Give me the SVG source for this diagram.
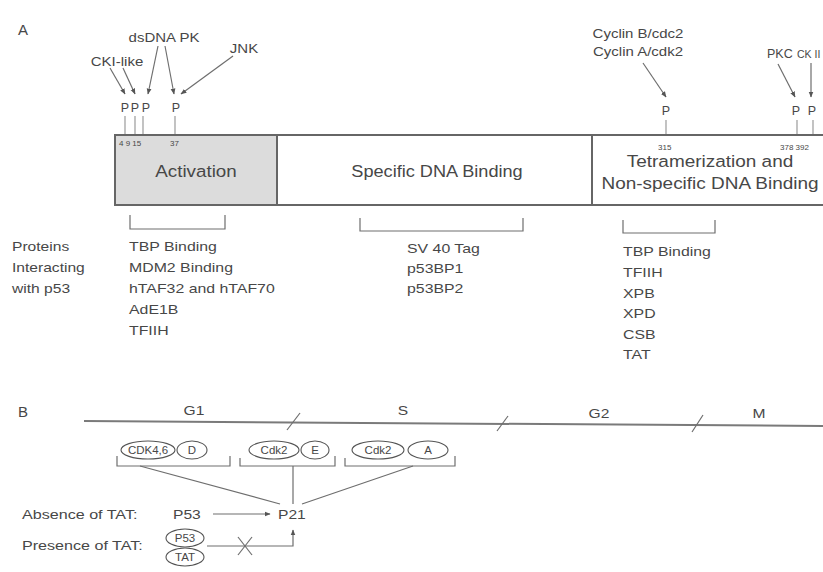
<svg xmlns="http://www.w3.org/2000/svg" width="823" height="572" viewBox="0 0 823 572">
<style>
.t{font-family:"Liberation Sans",Arial,Helvetica,sans-serif;fill:#474747}
.f17{font-size:16.5px}
.f13{font-size:13px}
.f12{font-size:12.5px}
.f10{font-size:10px}
.f8{font-size:8px}
.m{text-anchor:middle}
.ln{stroke:#6e6e6e;stroke-width:1.2;fill:none}
.tk{stroke:#9a9a9a;stroke-width:1.2;fill:none}
.box{stroke:#666;stroke-width:2;fill:#fff}
.act{fill:#dcdcdc}
.ov{stroke:#555;stroke-width:1.1;fill:#fff}
</style>
<defs>
<marker id="ah" viewBox="0 0 10 10" refX="9" refY="5" markerWidth="5" markerHeight="5" orient="auto"><path d="M0,1 L10,5 L0,9z" fill="#555"/></marker>
</defs>

<!-- Panel A -->
<g id="label-A"><text class="t" style="font-size:15px" x="18" y="35">A</text></g>

<g id="domain-activation">
<rect class="box act" x="115" y="135" width="162" height="70"/>
<text class="t f17 m" transform="translate(196 177) scale(1.14 1)">Activation</text>
<text class="t f8" x="119" y="146">4 9 15</text>
<text class="t f8" x="170" y="146">37</text>
</g>
<g id="domain-dna">
<rect class="box" x="277" y="135" width="315" height="70"/>
<text class="t f17 m" transform="translate(437 177) scale(1.1 1)">Specific DNA Binding</text>
</g>
<g id="domain-tetra">
<rect class="box" x="592" y="135" width="250" height="70"/>
<text class="t f17 m" transform="translate(710 167) scale(1.15 1)">Tetramerization and</text>
<text class="t f17 m" transform="translate(710 189) scale(1.15 1)">Non-specific DNA Binding</text>
<text class="t f8" x="658" y="150">315</text>
<text class="t f8" x="780" y="150">378 392</text>
</g>

<g id="kinase-cki"><text class="t f12 m" transform="translate(117 66) scale(1.2 1)">CKI-like</text></g>
<g id="kinase-dnapk"><text class="t f12 m" transform="translate(164 42) scale(1.2 1)">dsDNA PK</text></g>
<g id="kinase-jnk"><text class="t f12 m" transform="translate(244 53) scale(1.2 1)">JNK</text></g>
<g id="kinase-cyclin"><text class="t f12 m" transform="translate(638 38) scale(1.2 1)">Cyclin B/cdc2</text>
<text class="t f12 m" transform="translate(638 56) scale(1.2 1)">Cyclin A/cdk2</text></g>
<g id="kinase-pkc"><text class="t f12" x="767" y="58">PKC</text></g>
<g id="kinase-ck2"><text class="t" style="font-size:10.5px" x="797" y="58">CK II</text></g>

<g id="phospho-sites">
<text class="t f12 m" x="125" y="112">P</text>
<text class="t f12 m" x="135" y="112">P</text>
<text class="t f12 m" x="146" y="112">P</text>
<text class="t f12 m" x="176" y="112">P</text>
<text class="t f12 m" x="666" y="115">P</text>
<text class="t f12 m" x="796" y="115">P</text>
<text class="t f12 m" x="812" y="115">P</text>
</g>

<g id="connectors-A">
<line class="ln" x1="110" y1="68" x2="125" y2="94" marker-end="url(#ah)"/>
<line class="ln" x1="123" y1="68" x2="135" y2="94" marker-end="url(#ah)"/>
<line class="ln" x1="158" y1="46" x2="148" y2="94" marker-end="url(#ah)"/>
<line class="ln" x1="165" y1="46" x2="174" y2="94" marker-end="url(#ah)"/>
<line class="ln" x1="233" y1="56" x2="181" y2="94" marker-end="url(#ah)"/>
<line class="ln" x1="643" y1="63" x2="666" y2="97" marker-end="url(#ah)"/>
<line class="ln" x1="778" y1="64" x2="795" y2="97" marker-end="url(#ah)"/>
<line class="ln" x1="811" y1="63" x2="811" y2="97" marker-end="url(#ah)"/>
<line class="tk" x1="125" y1="116" x2="125" y2="134"/>
<line class="tk" x1="135" y1="116" x2="135" y2="134"/>
<line class="tk" x1="143" y1="116" x2="143" y2="134"/>
<line class="tk" x1="175" y1="116" x2="175" y2="134"/>
<line class="tk" x1="666" y1="120" x2="666" y2="134"/>
<line class="tk" x1="797" y1="120" x2="797" y2="134"/>
<line class="tk" x1="813" y1="120" x2="813" y2="134"/>
<path class="ln" d="M130,215 V229 H225 V215"/>
<path class="ln" d="M360,218 V231 H523 V218"/>
<path class="ln" d="M623,220 V233 H715 V220"/>
</g>

<g id="proteins-label">
<text class="t f13" transform="translate(12 251) scale(1.2 1)">Proteins</text>
<text class="t f13" transform="translate(12 272) scale(1.2 1)">Interacting</text>
<text class="t f13" transform="translate(12 293) scale(1.2 1)">with p53</text>
</g>
<g id="list-activation">
<text class="t f13" transform="translate(129 251) scale(1.22 1)">TBP Binding</text>
<text class="t f13" transform="translate(129 272) scale(1.22 1)">MDM2 Binding</text>
<text class="t f13" transform="translate(129 293) scale(1.22 1)">hTAF32 and hTAF70</text>
<text class="t f13" transform="translate(129 314) scale(1.22 1)">AdE1B</text>
<text class="t f13" transform="translate(129 335) scale(1.22 1)">TFIIH</text>
</g>
<g id="list-dna">
<text class="t f13" transform="translate(407 253) scale(1.22 1)">SV 40 Tag</text>
<text class="t f13" transform="translate(407 273) scale(1.22 1)">p53BP1</text>
<text class="t f13" transform="translate(407 293) scale(1.22 1)">p53BP2</text>
</g>
<g id="list-tetra">
<text class="t f13" transform="translate(623 256) scale(1.22 1)">TBP Binding</text>
<text class="t f13" transform="translate(623 277) scale(1.22 1)">TFIIH</text>
<text class="t f13" transform="translate(623 298) scale(1.22 1)">XPB</text>
<text class="t f13" transform="translate(623 318) scale(1.22 1)">XPD</text>
<text class="t f13" transform="translate(623 339) scale(1.22 1)">CSB</text>
<text class="t f13" transform="translate(623 359) scale(1.22 1)">TAT</text>
</g>

<!-- Panel B -->
<g id="label-B"><text class="t" style="font-size:15px" x="18" y="417">B</text></g>
<g id="cell-cycle">
<line x1="84" y1="421" x2="823" y2="426" stroke="#7a7a7a" stroke-width="2"/>
<line class="ln" x1="287" y1="430" x2="300" y2="413"/>
<line class="ln" x1="497" y1="431" x2="508" y2="416"/>
<line class="ln" x1="692" y1="432" x2="703" y2="415"/>
<text class="t f13 m" transform="translate(194 415) scale(1.2 1)">G1</text>
<text class="t f13 m" transform="translate(403 415) scale(1.2 1)">S</text>
<text class="t f13 m" transform="translate(599 418) scale(1.2 1)">G2</text>
<text class="t f13 m" transform="translate(759 418) scale(1.2 1)">M</text>
</g>

<g id="complex-cdk46-d">
<ellipse class="ov" cx="148" cy="450" rx="27" ry="9"/>
<ellipse class="ov" cx="192" cy="450" rx="15" ry="9"/>
<text class="t f10 m" transform="translate(148 454) scale(1.15 1)">CDK4,6</text>
<text class="t f10 m" transform="translate(192 454) scale(1.15 1)">D</text>
</g>
<g id="complex-cdk2-e">
<ellipse class="ov" cx="274" cy="450" rx="25" ry="9"/>
<ellipse class="ov" cx="315" cy="450" rx="14" ry="9"/>
<text class="t f10 m" transform="translate(274 454) scale(1.15 1)">Cdk2</text>
<text class="t f10 m" transform="translate(315 454) scale(1.15 1)">E</text>
</g>
<g id="complex-cdk2-a">
<ellipse class="ov" cx="378" cy="450" rx="26" ry="9"/>
<ellipse class="ov" cx="428" cy="450" rx="20" ry="9"/>
<text class="t f10 m" transform="translate(378 454) scale(1.15 1)">Cdk2</text>
<text class="t f10 m" transform="translate(428 454) scale(1.15 1)">A</text>
</g>

<g id="p21"><text class="t f13" transform="translate(278 519) scale(1.2 1)">P21</text></g>
<g id="absence-label"><text class="t f13" transform="translate(22 519) scale(1.24 1)">Absence of TAT:</text></g>
<g id="p53"><text class="t f13" transform="translate(173 519) scale(1.2 1)">P53</text></g>
<g id="presence-label"><text class="t f13" transform="translate(22 550) scale(1.24 1)">Presence of TAT:</text></g>
<g id="p53-tat">
<ellipse class="ov" cx="185" cy="538" rx="19" ry="9"/>
<ellipse class="ov" cx="185" cy="557" rx="19" ry="9"/>
<text class="t f10 m" transform="translate(185 542) scale(1.15 1)">P53</text>
<text class="t f10 m" transform="translate(185 561) scale(1.15 1)">TAT</text>
</g>

<g id="connectors-B">
<path class="ln" d="M117,456 V466 H230 V456"/>
<path class="ln" d="M240,458 V466 H335 V456"/>
<path class="ln" d="M345,458 V466 H455 V456"/>
<line class="ln" x1="140" y1="466" x2="280" y2="504"/>
<line class="ln" x1="293" y1="466" x2="293" y2="504"/>
<line class="ln" x1="413" y1="466" x2="302" y2="504"/>
<line class="ln" x1="213" y1="514" x2="270" y2="514" marker-end="url(#ah)"/>
<path class="ln" d="M207,546 H293 V530" marker-end="url(#ah)"/>
<line class="ln" x1="238" y1="537" x2="252" y2="555" stroke-width="1.6"/>
<line class="ln" x1="252" y1="537" x2="238" y2="555" stroke-width="1.6"/>
</g>
</svg>
